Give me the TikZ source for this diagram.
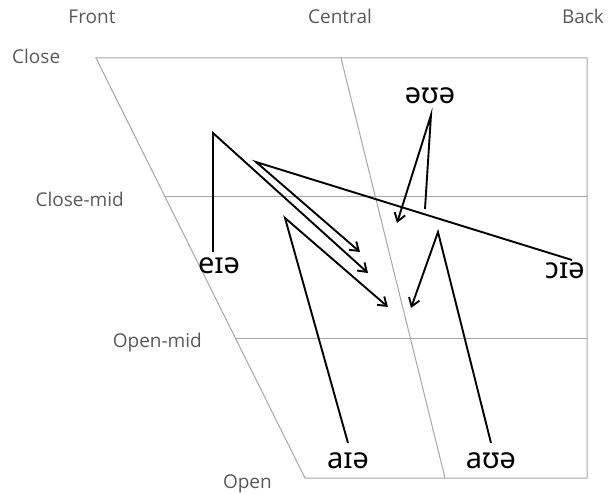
\documentclass[tikz,border=0pt]{standalone}
\usepackage{fontspec}
\setmainfont{Open Sans}
\newfontfamily\ipafont{Noto Sans}
\usetikzlibrary{arrows.meta}
\definecolor{labelgray}{HTML}{595959}
\definecolor{gridgray}{HTML}{A6A6A6}
\begin{document}
\begin{tikzpicture}[x=1pt,y=-1pt,
  axislabel/.style={text=labelgray,font=\fontsize{19}{22}\selectfont,inner sep=0pt},
  ipa/.style={font=\ipafont\fontsize{29}{32}\selectfont,inner sep=0pt},
  grid/.style={draw=gridgray,line width=1pt},
  path/.style={draw=black,line width=1.9pt,line join=miter},
  arr/.style={path,-{Straight Barb[length=8pt,width=11pt,line width=1.9pt]}}]
\useasboundingbox (0,0) rectangle (608,495);
% corners
\coordinate (TL) at (96,58);
\coordinate (TR) at (587,58);
\coordinate (BL) at (305,478);
\coordinate (BR) at (587,478);
\coordinate (TC) at (341,58);
\coordinate (BC) at (445,478);
\coordinate (CMl) at (165,196);
\coordinate (CMr) at (587,196);
\coordinate (OMl) at (235,338);
\coordinate (OMr) at (587,338);
\draw[grid] (TL) -- (TR) -- (BR) -- (BL) -- cycle;
\draw[grid] (TC) -- (BC);
\draw[grid] (CMl) -- (CMr);
\draw[grid] (OMl) -- (OMr);
% axis labels
\node[axislabel,anchor=base] (front) at (92,24) {Front};
\node[axislabel,anchor=base] (central) at (340,24) {Central};
\node[axislabel,anchor=base] (back) at (583,24) {Back};
\node[axislabel,anchor=base west] (close) at (12,64) {Close};
\node[axislabel,anchor=base east] (closemid) at (124,206) {Close-mid};
\node[axislabel,anchor=base east] (openmid) at (202,347) {Open-mid};
\node[axislabel,anchor=base east] (open) at (272,488) {Open};
% IPA labels
\node[ipa] (eie) at (219,266) {eɪə};
\node[ipa] (oie) at (565,271) {ɔɪə};
\node[ipa] (eue) at (430,96) {əʊə};
\node[ipa] (aie) at (348,461) {aɪə};
\node[ipa] (aue) at (491,461) {aʊə};
% path points
\coordinate (eieB) at (213,252);
\coordinate (eieV) at (213,133);
\coordinate (eieT) at (368,273);
\coordinate (oieB) at (572,260);
\coordinate (oieV) at (256,162);
\coordinate (oieT) at (360,252);
\coordinate (aieB) at (348,443);
\coordinate (aieV) at (285,218);
\coordinate (aieT) at (388,307);
\coordinate (aueB) at (491,443);
\coordinate (aueV) at (438,232);
\coordinate (aueT) at (411,308);
\coordinate (eueV) at (431,115);
\coordinate (eueE) at (425,209);
\coordinate (eueT) at (397,223);
% paths
\draw[arr] (eieB) -- (eieV) -- (eieT);
\draw[arr] (oieB) -- (oieV) -- (oieT);
\draw[arr] (aieB) -- (aieV) -- (aieT);
\draw[arr] (aueB) -- (aueV) -- (aueT);
\draw[arr] (eueE) -- (eueV) -- (eueT);
\end{tikzpicture}
\end{document}
